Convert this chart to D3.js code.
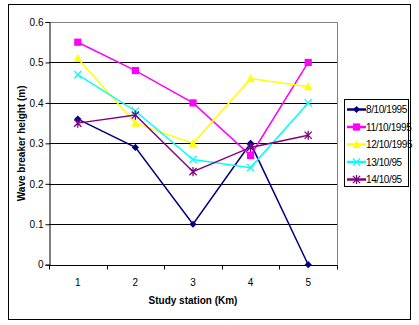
<!DOCTYPE html>
<html>
<head>
<meta charset="utf-8">
<script src="https://cdn.jsdelivr.net/npm/d3@7"></script>
<style>
  html, body { margin: 0; padding: 0; background: #fff; }
  text { font-family: "Liberation Sans", Arial, sans-serif; }
</style>
</head>
<body>
<div id="chart"></div>
<script>
// Wave breaker height per study station, five survey days
var stations = ["1", "2", "3", "4", "5"];
var yTicks = [0, 0.1, 0.2, 0.3, 0.4, 0.5, 0.6];
var seriesNames = ["8/10/1995", "11/10/1995", "12/10/1995", "13/10/95", "14/10/95"];
var seriesColors = ["#000080", "#ff00ff", "#ffff00", "#00ffff", "#800080"];
var seriesMarkers = ["diamond", "square", "triangle", "cross", "star"];
var h8 = [0.36, 0.29, 0.10, 0.30, 0.00];
var h11 = [0.55, 0.48, 0.40, 0.27, 0.50];
var h12 = [0.51, 0.35, 0.30, 0.46, 0.44];
var h13 = [0.47, 0.38, 0.26, 0.24, 0.40];
var h14 = [0.35, 0.37, 0.23, 0.29, 0.32];
var seriesValues = [h8, h11, h12, h13, h14];

var W = 419, H = 325;
var m = { left: 49, top: 22, right: 337, bottom: 264.7 };

var svg = d3.select("#chart").append("svg").attr("width", W).attr("height", H);

// outer frame
svg.append("rect").attr("x", 8.5).attr("y", 4.5).attr("width", 402).attr("height", 315)
  .attr("fill", "#fff").attr("stroke", "#000").attr("stroke-width", 1);

var x = d3.scaleBand().domain(stations).range([m.left, m.right]);
var y = d3.scaleLinear().domain([0, 0.6]).range([m.bottom, m.top]);

// gridlines
svg.append("g").selectAll("line").data(yTicks.filter(function (d) { return d > 0 && d < 0.6; }))
  .enter().append("line")
  .attr("x1", m.left).attr("x2", m.right)
  .attr("y1", function (d) { return Math.round(y(d)) + 0.5; })
  .attr("y2", function (d) { return Math.round(y(d)) + 0.5; })
  .attr("stroke", "#000").attr("stroke-width", 1);

// plot border top/right in gray
svg.append("path")
  .attr("d", "M" + m.left + "," + (Math.round(m.top) + 0.5) + "H" + (m.right + 0.5) + "V" + m.bottom)
  .attr("fill", "none").attr("stroke", "#808080").attr("stroke-width", 1);

// y axis
var yAxis = d3.axisLeft(y).tickValues(yTicks).tickSize(4).tickFormat(function (d) { return d === 0 ? "0" : d3.format(".1f")(d); });
var gy = svg.append("g").attr("transform", "translate(" + (m.left + 0.5) + ",0)").call(yAxis);
gy.select(".domain").attr("stroke", "#000");
gy.selectAll(".tick line").attr("stroke", "#000");
gy.selectAll("text").attr("font-size", "10px").attr("fill", "#000").attr("font-family", "Liberation Sans, Arial, sans-serif").attr("x", -6);

// x axis with ticks at category boundaries
var gx = svg.append("g").attr("transform", "translate(0," + (Math.round(m.bottom) + 0.5) + ")");
gx.append("line").attr("x1", m.left).attr("x2", m.right + 1).attr("stroke", "#000");
var bounds = [m.left].concat(stations.map(function (s) { return x(s) + x.bandwidth(); }));
gx.selectAll(".bt").data(bounds).enter().append("line")
  .attr("x1", function (d) { return Math.round(d) + 0.5; })
  .attr("x2", function (d) { return Math.round(d) + 0.5; })
  .attr("y1", 0).attr("y2", 4).attr("stroke", "#000");
gx.selectAll("text").data(stations).enter().append("text")
  .attr("x", function (d) { return x(d) + x.bandwidth() / 2; })
  .attr("y", 20).attr("text-anchor", "middle").attr("font-size", "10px").attr("fill", "#000")
  .text(function (d) { return d; });

// axis titles
svg.append("text").attr("x", 193).attr("y", 304).attr("text-anchor", "middle")
  .attr("font-size", "10px").attr("font-weight", "bold").text("Study station (Km)");
svg.append("text").attr("transform", "translate(25," + ((m.top + m.bottom) / 2) + ") rotate(-90)")
  .attr("text-anchor", "middle").attr("font-size", "10px").attr("font-weight", "bold")
  .text("Wave breaker height (m)");

function drawMarker(g, kind, cx, cy, color) {
  var s = 3.6;
  if (kind === "diamond") {
    g.append("path").attr("d", "M" + cx + "," + (cy - s) + "L" + (cx + s) + "," + cy + "L" + cx + "," + (cy + s) + "L" + (cx - s) + "," + cy + "Z").attr("fill", color);
  } else if (kind === "square") {
    g.append("rect").attr("x", cx - s).attr("y", cy - s).attr("width", 2 * s).attr("height", 2 * s).attr("fill", color);
  } else if (kind === "triangle") {
    g.append("path").attr("d", "M" + cx + "," + (cy - s - 1) + "L" + (cx + s + 0.5) + "," + (cy + s) + "L" + (cx - s - 0.5) + "," + (cy + s) + "Z").attr("fill", color);
  } else if (kind === "cross") {
    g.append("path").attr("d", "M" + (cx - s) + "," + (cy - s) + "L" + (cx + s) + "," + (cy + s) + "M" + (cx + s) + "," + (cy - s) + "L" + (cx - s) + "," + (cy + s))
      .attr("stroke", color).attr("stroke-width", 1.3);
  } else {
    g.append("path").attr("d", "M" + (cx - s) + "," + (cy - s) + "L" + (cx + s) + "," + (cy + s) + "M" + (cx + s) + "," + (cy - s) + "L" + (cx - s) + "," + (cy + s) + "M" + cx + "," + (cy - s - 1) + "L" + cx + "," + (cy + s + 1))
      .attr("stroke", color).attr("stroke-width", 1.3);
  }
}

var line = d3.line()
  .x(function (d, i) { return x(stations[i]) + x.bandwidth() / 2; })
  .y(function (d) { return y(d); });

seriesValues.forEach(function (vals, si) {
  var g = svg.append("g");
  g.append("path").datum(vals).attr("d", line).attr("fill", "none")
    .attr("stroke", seriesColors[si]).attr("stroke-width", 1.5);
  vals.forEach(function (v, i) {
    drawMarker(g, seriesMarkers[si], x(stations[i]) + x.bandwidth() / 2, y(v), seriesColors[si]);
  });
});

// legend
var lg = svg.append("g");
lg.append("rect").attr("x", 344.5).attr("y", 99.5).attr("width", 64).attr("height", 87)
  .attr("fill", "#fff").attr("stroke", "#000").attr("stroke-width", 1);
seriesNames.forEach(function (name, si) {
  var ly = 109.5 + si * 17.5;
  lg.append("line").attr("x1", 347).attr("x2", 366).attr("y1", ly).attr("y2", ly)
    .attr("stroke", seriesColors[si]).attr("stroke-width", 2.5);
  drawMarker(lg, seriesMarkers[si], 356.5, ly, seriesColors[si]);
  lg.append("text").attr("x", 366).attr("y", ly + 3.5).attr("font-size", "10px")
    .attr("letter-spacing", "-0.4px").attr("fill", "#000").text(name);
});
</script>
</body>
</html>
